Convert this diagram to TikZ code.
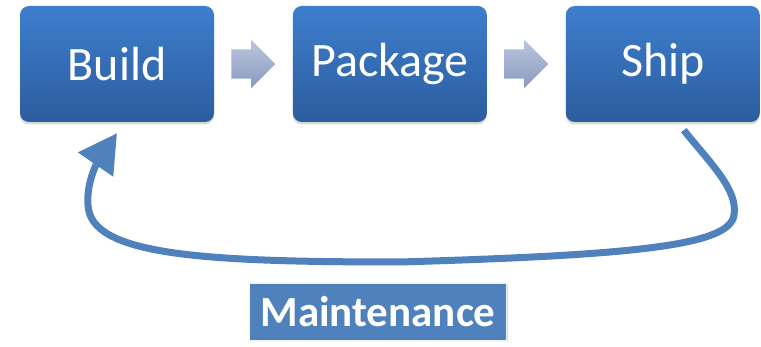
\documentclass[tikz,border=0pt]{standalone}
\usepackage{fontspec}
\setmainfont{Carlito}
\usepackage{tikz}
\usetikzlibrary{positioning, arrows.meta, shapes.arrows, shadows}
\definecolor{azulTop}{RGB}{62,126,205}
\definecolor{azulBot}{RGB}{44,93,158}
\definecolor{azulCurva}{RGB}{79,129,189}
\definecolor{grisTop}{RGB}{186,198,224}
\definecolor{grisBot}{RGB}{137,154,190}
\tikzset{
    caja_etapa/.style={rectangle, rounded corners=9pt, top color=azulTop, bottom color=azulBot, draw=none, minimum width=194pt, minimum height=116pt, text=white, font=\fontsize{48}{56}\selectfont, drop shadow={opacity=0.3, shadow xshift=0pt, shadow yshift=-2.5pt}},
    flecha_gris/.style={single arrow, draw=none, top color=grisTop, bottom color=grisBot, minimum height=44pt, single arrow head extend=9.5pt, inner xsep=0pt, inner ysep=14.5pt, single arrow tip angle=90},
    caja_mant/.style={rectangle, fill=azulCurva, draw=white!92!gray, line width=1.5pt, text=white, minimum width=257pt, minimum height=58pt, font=\fontsize{43}{50}\selectfont\bfseries, drop shadow={opacity=0.3, shadow xshift=1pt, shadow yshift=-1.5pt}},
    flecha_mant/.style={draw=azulCurva, line width=7pt, -{Triangle[length=38pt, width=41pt]}}
}

\begin{document}
\begin{tikzpicture}[x=1pt, y=-1pt, node distance=17pt]
    \useasboundingbox (0,0) rectangle (761,347);

    % 1. Fila de etapas
    \node[caja_etapa] (build) at (117,64) {Build};
    \node[flecha_gris, right=of build] (f1) {};
    \node[caja_etapa, right=of f1] (package) {Package};
    \node[flecha_gris, right=of package] (f2) {};
    \node[caja_etapa, right=of f2] (ship) {Ship};

    % 2. Etiqueta inferior
    \node[caja_mant] (mant) at (378,312) {Maintenance};

    % --- CONEXIONES ---
    % Curva de vuelta desde Ship hasta Build
    \draw[flecha_mant] ([xshift=21pt, yshift=-8pt]ship.south)
        .. controls (712,165) and (738,190) .. (734,215)
        .. controls (730,245) and (640,255) .. (400,262)
        .. controls (200,262) and (90,255) .. (88,205)
        .. controls (86,180) and (100,158) .. ([yshift=-11pt]build.south);

\end{tikzpicture}
\end{document}
